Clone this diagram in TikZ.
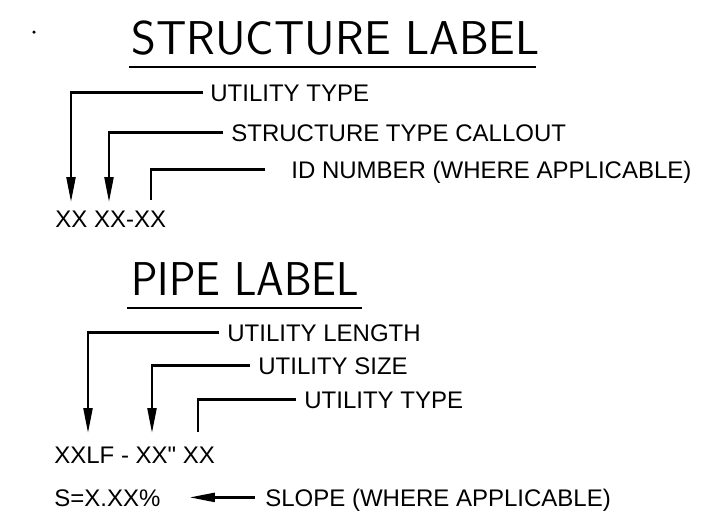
\documentclass[tikz,border=0pt]{standalone}
\usepackage{fontspec}
\setmainfont{Liberation Sans}
\usetikzlibrary{arrows.meta}

\begin{document}
\begin{tikzpicture}[x=0.02cm,y=-0.02cm,>={Triangle[length=0.5cm,width=0.18cm]},
  callout/.style={anchor=base west,inner sep=0pt,text height=9.8pt,text depth=0pt,font=\fontsize{13.66}{16}\selectfont},
  heading/.style={anchor=base west,inner sep=0pt,font=\fontsize{27}{32}\selectfont\sffamily},
  leader/.style={line width=0.045cm},
  rule/.style={line width=0.05cm}]
  \useasboundingbox (0,0) rectangle (719,528);
  \fill (34,32) circle[radius=0.035cm];
  % structure label
  \node[heading] (strtitle) at (131,54) {STRUCTURE LABEL};
  \draw[rule] (129,67) -- (536,67);
  \node[callout] (utype) at (210,101) {UTILITY TYPE};
  \node[callout] (stype) at (231,141) {STRUCTURE TYPE CALLOUT};
  \node[callout] (idno) at (291,178) {ID NUMBER (WHERE APPLICABLE)};
  \node[callout] (strid) at (55,227) {XX XX-XX};
  \coordinate (tipa) at (71,202);
  \coordinate (tipb) at (109,202);
  \coordinate (tipc) at (151,200);
  \draw[leader,->] ([xshift=-0.14cm]utype.west) -| (tipa);
  \draw[leader,->] ([xshift=-0.16cm]stype.west) -| (tipb);
  \draw[leader] ([xshift=-0.52cm]idno.west) -| (tipc);
  % pipe label
  \node[heading,xscale=0.93] (pipetitle) at (131,295) {PIPE LABEL};
  \draw[rule] (127,308) -- (362,308);
  \node[callout] (ulen) at (227,341) {UTILITY LENGTH};
  \node[callout] (usize) at (258,374) {UTILITY SIZE};
  \node[callout] (utype2) at (304,408) {UTILITY TYPE};
  \node[callout] (pipeid) at (54,463) {XXLF - XX\textquotedbl{} XX};
  \node[callout] (slopeval) at (54,506) {S=X.XX\%};
  \node[callout] (slope) at (265,506) {SLOPE (WHERE APPLICABLE)};
  \coordinate (tipd) at (88,433);
  \coordinate (tipe) at (152,433);
  \coordinate (tipf) at (198,432);
  \draw[leader,->] ([xshift=-0.16cm]ulen.west) -| (tipd);
  \draw[leader,->] ([xshift=-0.16cm]usize.west) -| (tipe);
  \draw[leader] ([xshift=-0.16cm]utype2.west) -| (tipf);
  \draw[leader,->] ([xshift=-0.2cm]slope.west) -- ([xshift=0.58cm]slopeval.east);
\end{tikzpicture}
\end{document}
